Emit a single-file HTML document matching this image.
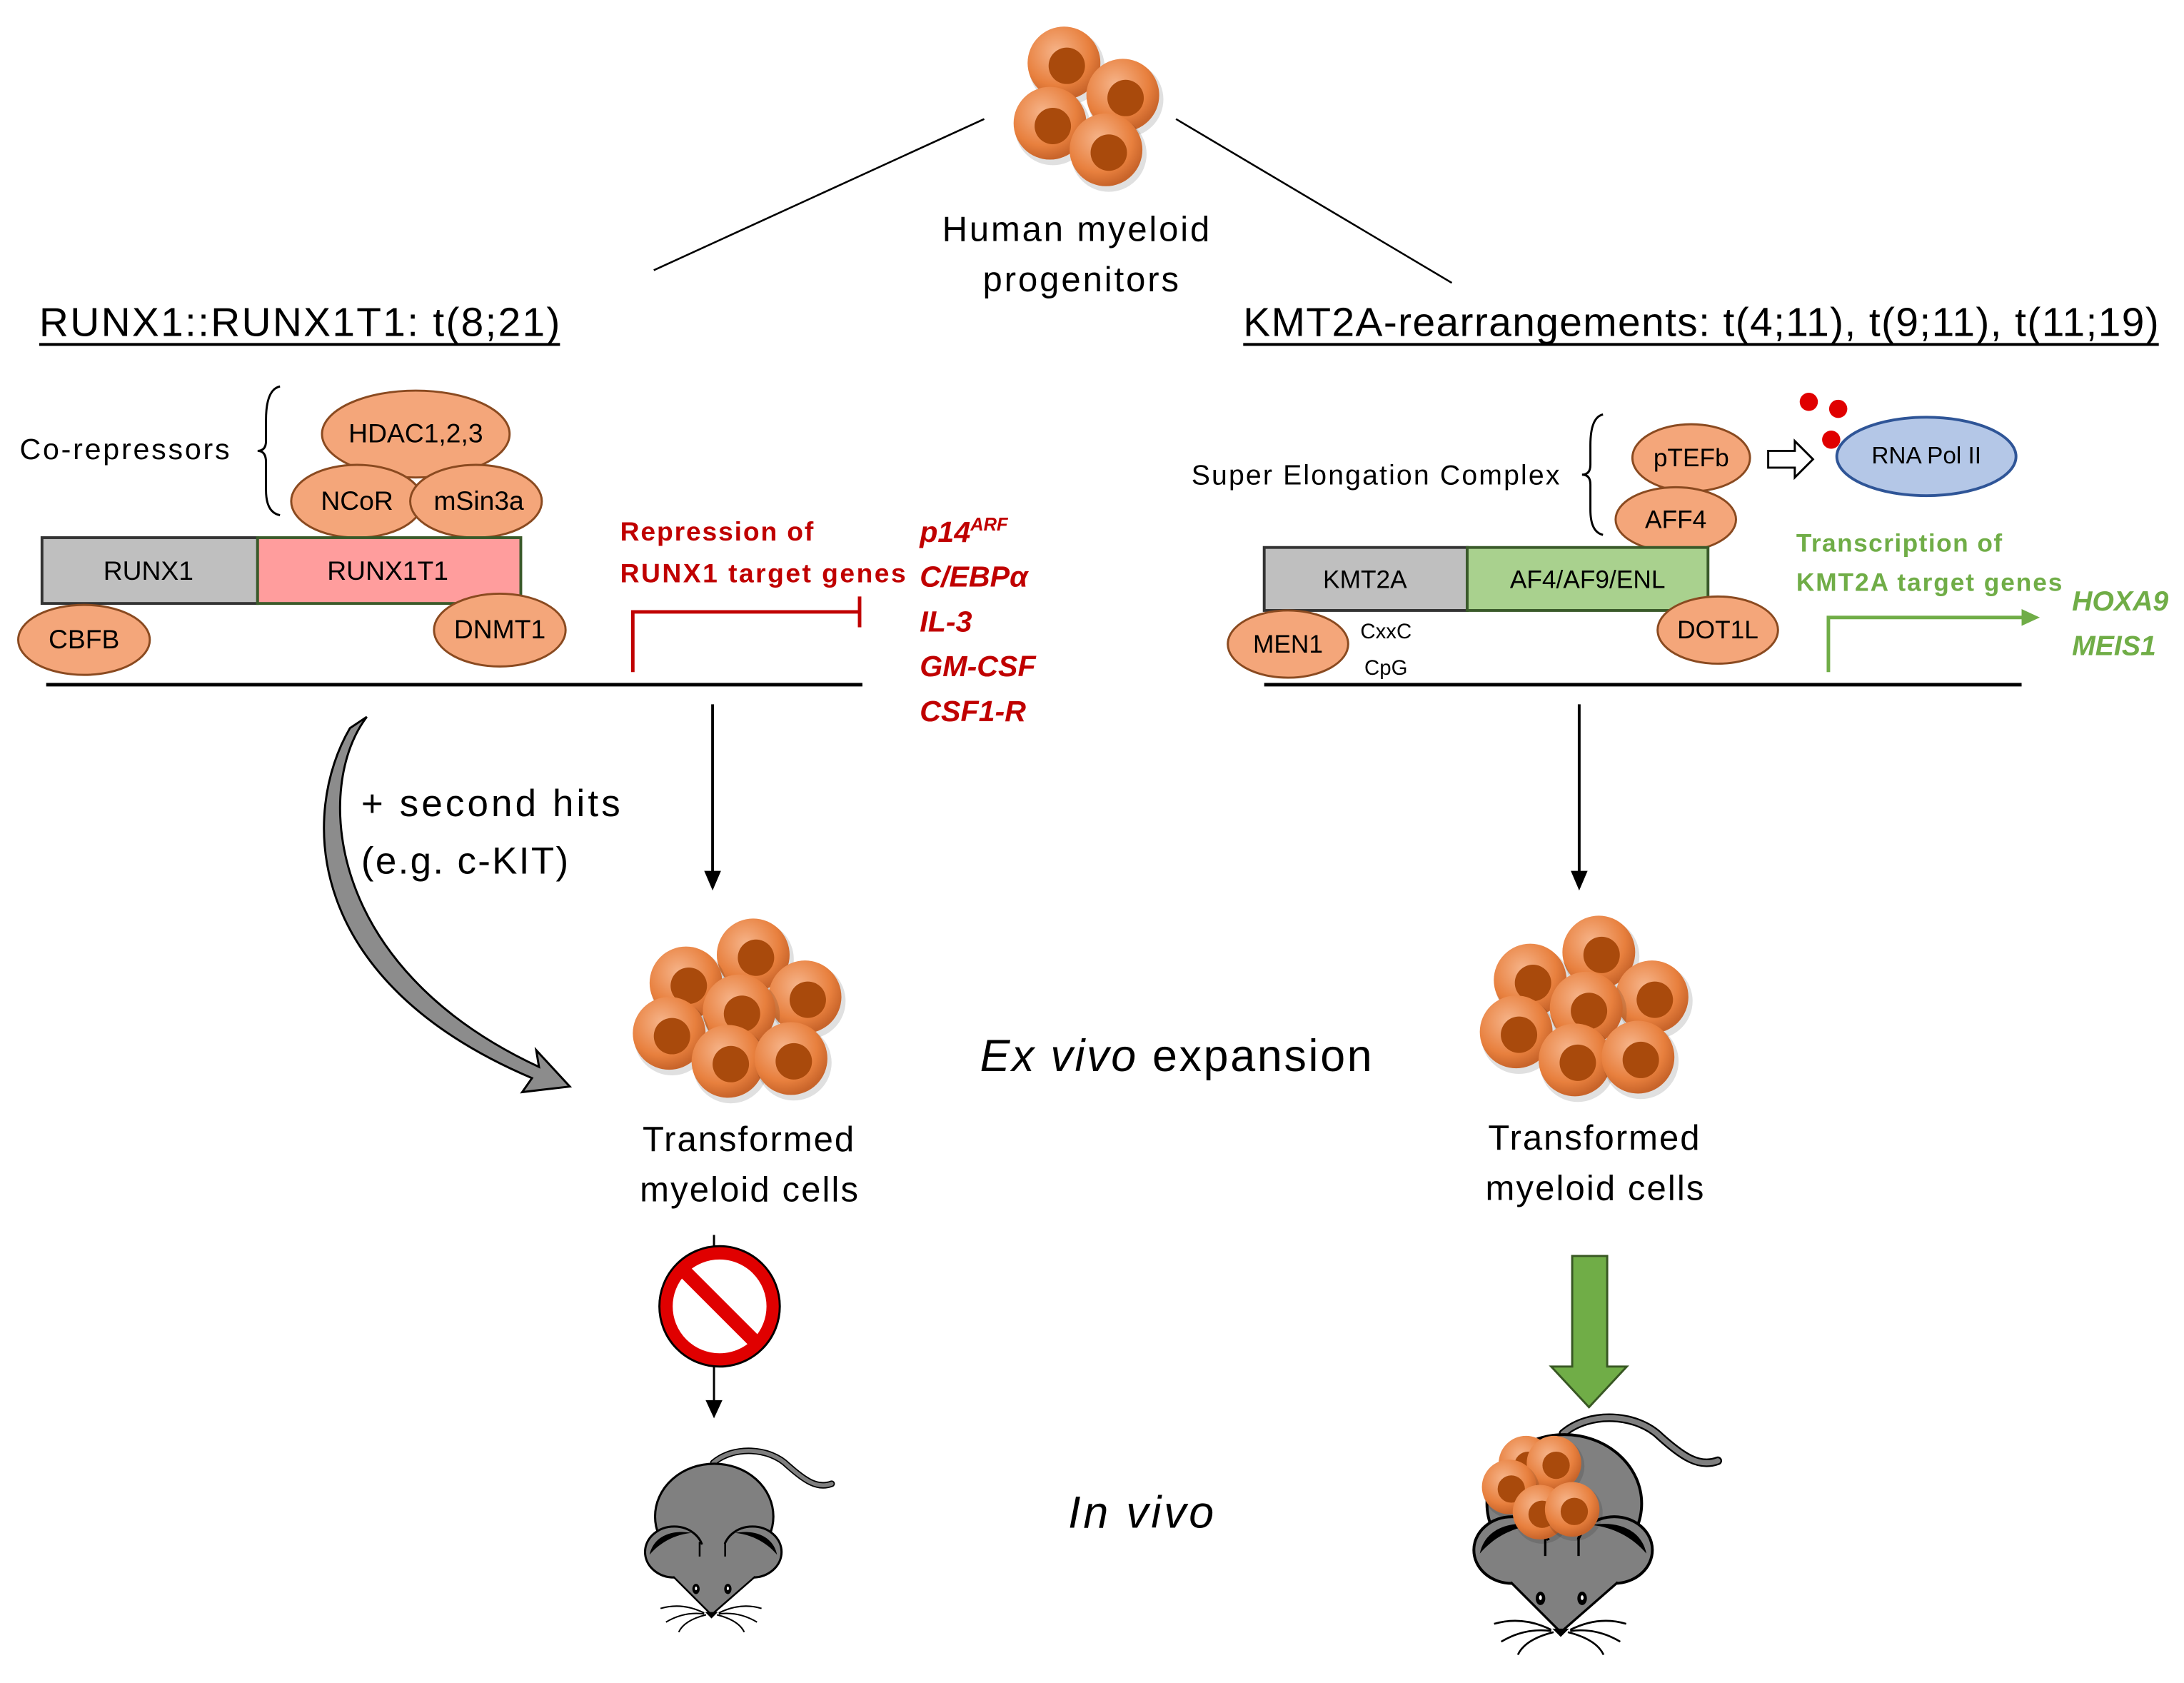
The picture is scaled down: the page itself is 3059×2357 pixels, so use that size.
<!DOCTYPE html>
<html><head><meta charset="utf-8"><style>html,body{margin:0;padding:0;background:#fff}svg{display:block}</style></head>
<body>
<svg xmlns="http://www.w3.org/2000/svg" width="3059" height="2357" viewBox="0 0 1560 1202" font-family="Liberation Sans, DejaVu Sans, sans-serif">
<defs>
<radialGradient id="cg" cx="40%" cy="35%" r="65%">
<stop offset="0" stop-color="#f6b48a"/><stop offset="0.7" stop-color="#e8803e"/><stop offset="1" stop-color="#c8642a"/>
</radialGradient>
<g id="cell">
<circle cx="2" cy="3" r="27" fill="#000" opacity="0.12"/>
<circle cx="0" cy="0" r="26" fill="url(#cg)"/>
<circle cx="2" cy="2" r="13" fill="#a94a0c"/>
</g>
<g id="mouse">
<path d="M450,175 C560,80 760,90 860,190 C950,270 1020,320 1100,290" fill="none" stroke="#000" stroke-width="36" stroke-linecap="round"/>
<path d="M450,175 C560,80 760,90 860,190 C950,270 1020,320 1100,290" fill="none" stroke="#7f7f7f" stroke-width="22" stroke-linecap="round"/>
<ellipse cx="455" cy="470" rx="325" ry="290" fill="#808080" stroke="#000" stroke-width="12"/>
<ellipse cx="235" cy="665" rx="160" ry="140" fill="#808080" stroke="#000" stroke-width="12"/>
<path d="M100,680 C120,580 220,540 330,560 C230,570 150,620 100,680Z" fill="#000"/>
<ellipse cx="665" cy="665" rx="160" ry="140" fill="#808080" stroke="#000" stroke-width="12"/>
<path d="M800,680 C780,580 680,540 570,560 C670,570 750,620 800,680Z" fill="#000"/>
<path d="M230,800 Q300,620 455,610 Q610,620 680,800 L440,1010Z" fill="#808080"/>
<path d="M230,800 L440,1010 L680,800" fill="none" stroke="#000" stroke-width="10"/>
<path d="M375,610 L375,690 M515,610 L515,690" stroke="#000" stroke-width="10"/>
<ellipse cx="355" cy="868" rx="20" ry="28" fill="#000"/><ellipse cx="355" cy="865" rx="6" ry="10" fill="#fff"/>
<ellipse cx="530" cy="868" rx="20" ry="28" fill="#000"/><ellipse cx="530" cy="865" rx="6" ry="10" fill="#fff"/>
<path d="M405,995 L475,995 L440,1030Z" fill="#000"/>
<g fill="none" stroke="#000" stroke-width="8">
<path d="M400,1000 Q280,940 160,975"/><path d="M400,1005 Q290,990 190,1050"/><path d="M410,1010 Q290,1040 260,1105"/>
<path d="M480,1000 Q600,940 715,975"/><path d="M480,1005 Q590,990 690,1050"/><path d="M470,1010 Q590,1040 620,1105"/>
</g>
</g>
</defs>

<use href="#cell" x="760" y="45"/><use href="#cell" x="802" y="68"/><use href="#cell" x="750" y="88"/><use href="#cell" x="790" y="107"/>
<text x="673" y="172" font-size="25" textLength="191">Human myeloid</text>
<text x="702" y="208" font-size="25" textLength="140">progenitors</text>
<line x1="703" y1="85" x2="467" y2="193" stroke="#000" stroke-width="1.3"/>
<line x1="840" y1="85" x2="1037" y2="202" stroke="#000" stroke-width="1.3"/>

<text x="28" y="240" font-size="29" textLength="372">RUNX1::RUNX1T1: t(8;21)</text>
<line x1="28" y1="246" x2="400" y2="246" stroke="#000" stroke-width="2"/>
<text x="888" y="240" font-size="29" textLength="654">KMT2A-rearrangements: t(4;11), t(9;11), t(11;19)</text>
<line x1="888" y1="246" x2="1542" y2="246" stroke="#000" stroke-width="2"/>

<text x="14" y="328" font-size="21" textLength="150">Co-repressors</text>
<path d="M200,276 Q190,278 190,300 L190,315 Q190,322 184,322 Q190,322 190,330 L190,350 Q190,366 200,368" fill="none" stroke="#000" stroke-width="1.5"/>
<g fill="#f4a67a" stroke="#8a4a20" stroke-width="1.5">
<ellipse cx="297" cy="310" rx="67" ry="31"/>
<ellipse cx="255" cy="358" rx="47" ry="26"/>
<ellipse cx="340" cy="358" rx="47" ry="26"/>
</g>
<rect x="30" y="384" width="154" height="47" fill="#bfbfbf" stroke="#333" stroke-width="2"/>
<rect x="184" y="384" width="188" height="47" fill="#ff9d9d" stroke="#3a5a2a" stroke-width="2"/>
<g fill="#f4a67a" stroke="#8a4a20" stroke-width="1.5">
<ellipse cx="60" cy="457" rx="47" ry="25"/>
<ellipse cx="357" cy="450" rx="47" ry="26"/>
</g>
<g font-size="19" text-anchor="middle">
<text x="297" y="316">HDAC1,2,3</text>
<text x="255" y="364">NCoR</text>
<text x="342" y="364">mSin3a</text>
<text x="106" y="414">RUNX1</text>
<text x="277" y="414">RUNX1T1</text>
<text x="60" y="463">CBFB</text>
<text x="357" y="456">DNMT1</text>
</g>
<line x1="33" y1="489" x2="616" y2="489" stroke="#000" stroke-width="2.5"/>
<g fill="#c00000" font-weight="bold">
<text x="443" y="386" font-size="19" textLength="138">Repression of</text>
<text x="443" y="416" font-size="19" textLength="204">RUNX1 target genes</text>
</g>
<path d="M452,480 L452,437 L614,437 M614,426 L614,448" fill="none" stroke="#c00000" stroke-width="2.5"/>
<g fill="#c00000" font-weight="bold" font-style="italic" font-size="21">
<text x="657" y="387">p14<tspan font-size="13" dy="-8">ARF</tspan></text>
<text x="657" y="419">C/EBPα</text>
<text x="657" y="451">IL-3</text>
<text x="657" y="483">GM-CSF</text>
<text x="657" y="515">CSF1-R</text>
</g>
<line x1="509" y1="503" x2="509" y2="624" stroke="#000" stroke-width="2"/>
<path d="M503,622 L515,622 L509,636Z" fill="#000"/>

<path d="M262,512 C225,560 230,690 385,762 L383,750 L407,776 L373,780 L380,770 C215,700 215,580 250,520Z" fill="#8c8c8c" stroke="#000" stroke-width="1.5"/>
<text x="258" y="583" font-size="27" textLength="185">+ second hits</text>
<text x="258" y="624" font-size="27" textLength="148">(e.g. c-KIT)</text>

<use href="#cell" x="538" y="682"/><use href="#cell" x="490" y="702"/><use href="#cell" x="575" y="712"/><use href="#cell" x="528" y="722"/><use href="#cell" x="478" y="738"/><use href="#cell" x="520" y="758"/><use href="#cell" x="565" y="756"/>
<text x="459" y="822" font-size="25" textLength="151">Transformed</text>
<text x="457" y="858" font-size="25" textLength="156">myeloid cells</text>
<line x1="510" y1="882" x2="510" y2="1002" stroke="#000" stroke-width="1.5"/>
<path d="M504,1000 L516,1000 L510,1013Z" fill="#000"/>
<circle cx="514" cy="933" r="38" fill="#fff" stroke="#e00000" stroke-width="9"/>
<circle cx="514" cy="933" r="43" fill="none" stroke="#000" stroke-width="1.5"/>
<line x1="487" y1="906" x2="541" y2="960" stroke="#e00000" stroke-width="10"/>
<use href="#mouse" transform="translate(451,1022) scale(0.13)"/>

<text x="700" y="765" font-size="32" textLength="280"><tspan font-style="italic">Ex vivo</tspan> expansion</text>
<text x="763" y="1091" font-size="32" font-style="italic" textLength="104">In vivo</text>

<text x="851" y="346" font-size="20" textLength="263">Super Elongation Complex</text>
<path d="M1145,296 Q1136,298 1136,318 L1136,332 Q1136,339 1130,339 Q1136,339 1136,346 L1136,364 Q1136,380 1145,382" fill="none" stroke="#000" stroke-width="1.5"/>
<g fill="#f4a67a" stroke="#8a4a20" stroke-width="1.5">
<ellipse cx="1208" cy="327" rx="42" ry="24"/>
<ellipse cx="1197" cy="371" rx="43" ry="23"/>
</g>
<path d="M1263,322 L1282,322 L1282,315 L1295,328 L1282,341 L1282,334 L1263,334Z" fill="#fff" stroke="#000" stroke-width="1.5"/>
<g fill="#e00000"><circle cx="1292" cy="287" r="6.5"/><circle cx="1313" cy="292" r="6.5"/><circle cx="1308" cy="314" r="6.5"/></g>
<ellipse cx="1376" cy="326" rx="64" ry="28" fill="#b4c7e7" stroke="#2f5597" stroke-width="2"/>
<rect x="903" y="391" width="145" height="45" fill="#bfbfbf" stroke="#333" stroke-width="2"/>
<rect x="1048" y="391" width="172" height="45" fill="#a9d18e" stroke="#3a5a2a" stroke-width="2"/>
<g fill="#f4a67a" stroke="#8a4a20" stroke-width="1.5">
<ellipse cx="920" cy="460" rx="43" ry="24"/>
<ellipse cx="1227" cy="450" rx="43" ry="24"/>
</g>
<g font-size="18" text-anchor="middle">
<text x="1208" y="333">pTEFb</text>
<text x="1197" y="377">AFF4</text>
<text x="1376" y="331" font-size="17">RNA Pol II</text>
<text x="975" y="420">KMT2A</text>
<text x="1134" y="420">AF4/AF9/ENL</text>
<text x="920" y="466">MEN1</text>
<text x="1227" y="456">DOT1L</text>
<text x="990" y="456" font-size="15">CxxC</text>
<text x="990" y="482" font-size="15">CpG</text>
</g>
<line x1="903" y1="489" x2="1444" y2="489" stroke="#000" stroke-width="2.5"/>
<g fill="#70ad47" font-weight="bold" font-size="18">
<text x="1283" y="394" textLength="147">Transcription of</text>
<text x="1283" y="422" textLength="190">KMT2A target genes</text>
</g>
<path d="M1306,480 L1306,441 L1446,441" fill="none" stroke="#70ad47" stroke-width="2.5"/>
<path d="M1444,435 L1457,441 L1444,447Z" fill="#70ad47"/>
<g fill="#70ad47" font-weight="bold" font-style="italic" font-size="20">
<text x="1480" y="436">HOXA9</text>
<text x="1480" y="468">MEIS1</text>
</g>
<line x1="1128" y1="503" x2="1128" y2="624" stroke="#000" stroke-width="2"/>
<path d="M1122,622 L1134,622 L1128,636Z" fill="#000"/>

<use href="#cell" x="1142" y="680"/><use href="#cell" x="1093" y="700"/><use href="#cell" x="1180" y="712"/><use href="#cell" x="1133" y="720"/><use href="#cell" x="1083" y="737"/><use href="#cell" x="1125" y="757"/><use href="#cell" x="1170" y="755"/>
<text x="1063" y="821" font-size="25" textLength="151">Transformed</text>
<text x="1061" y="857" font-size="25" textLength="156">myeloid cells</text>
<path d="M1123,897 L1148,897 L1148,976 L1162,976 L1135,1005 L1108,976 L1123,976Z" fill="#70ad47" stroke="#385723" stroke-width="1.5"/>
<use href="#mouse" transform="translate(1040,994) scale(0.17)"/>
<use href="#cell" transform="translate(1090,1045) scale(0.75)"/>
<use href="#cell" transform="translate(1110,1045) scale(0.75)"/>
<use href="#cell" transform="translate(1078,1062) scale(0.75)"/>
<use href="#cell" transform="translate(1100,1080) scale(0.75)"/>
<use href="#cell" transform="translate(1123,1078) scale(0.75)"/>
</svg>
</body></html>
